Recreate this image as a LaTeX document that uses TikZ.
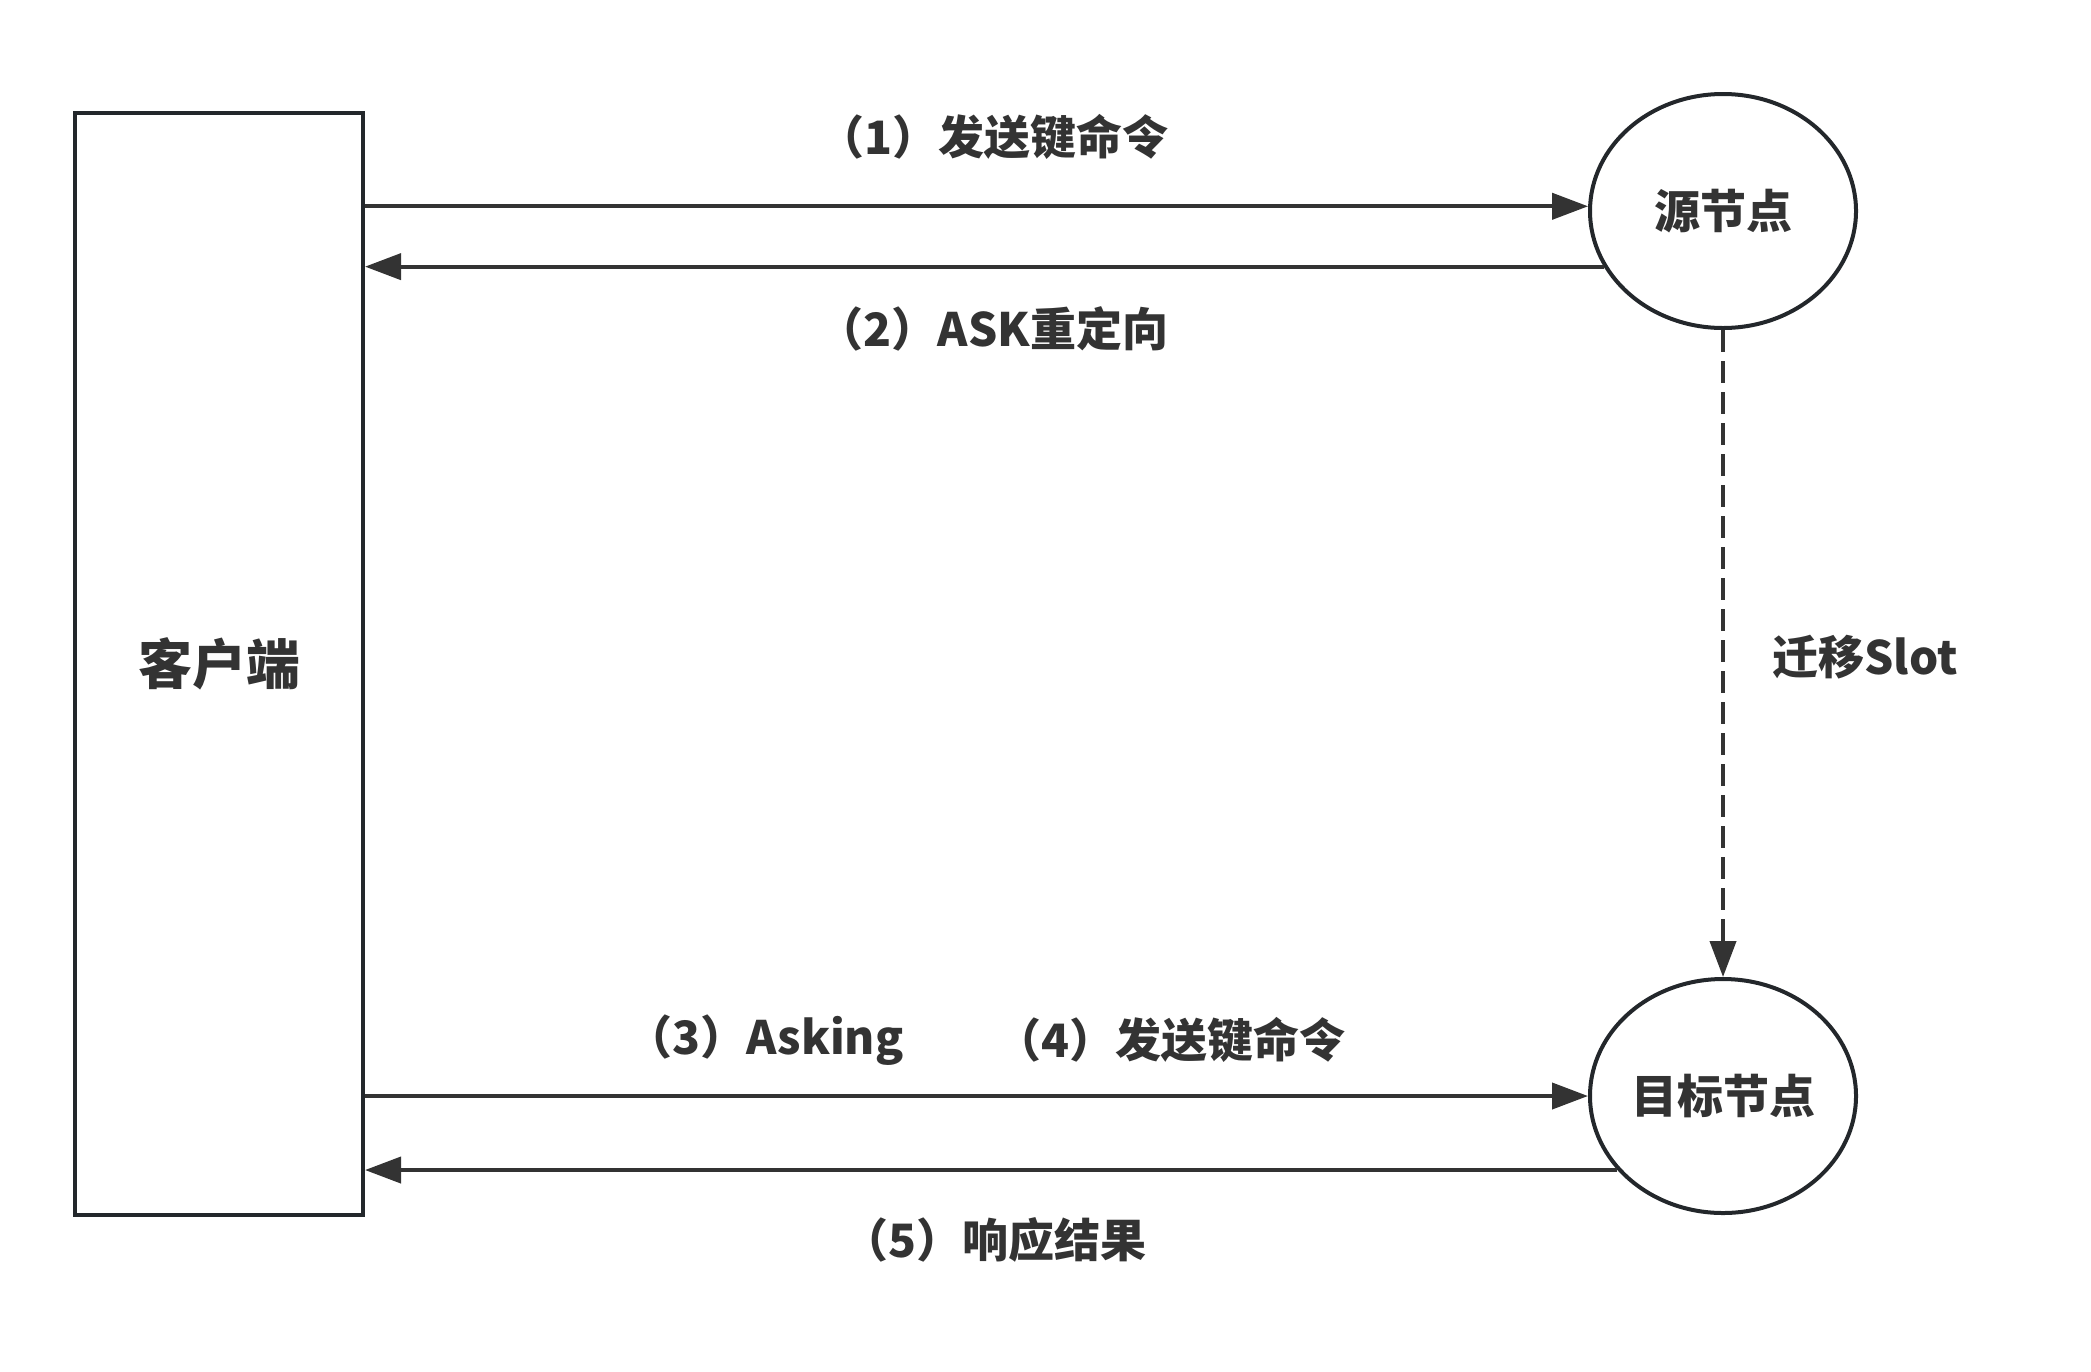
\documentclass[tikz,border=0pt]{standalone}
\usepackage{fontspec}
\setmainfont{Noto Sans CJK SC}
\usepackage{xcolor}
\usetikzlibrary{arrows.meta, positioning, shapes.geometric}
\definecolor{ink}{HTML}{333333}
\definecolor{edge}{HTML}{23272B}

\begin{document}
\begin{tikzpicture}[
    x=0.5pt, y=-0.5pt,
    every node/.style={font=\bfseries\fontsize{23}{27}\selectfont, text=ink, align=center},
    client/.style={rectangle, draw=edge, line width=2pt, minimum width=144pt, minimum height=551pt,
                   font=\bfseries\fontsize{27}{32}\selectfont},
    server/.style={ellipse, draw=edge, line width=2pt, inner sep=0pt, minimum width=133pt, minimum height=117pt},
    arr/.style={-{Triangle[length=18pt, width=13pt]}, line width=2pt, draw=ink},
    dasharr/.style={arr, dash pattern=on 11pt off 4.5pt}
  ]
    \useasboundingbox (0,0) rectangle (2091,1371);

    % client and nodes
    \node[client] (client) at (219,664) {客户端};
    \node[server] (src) at (1723,211) {源节点};
    \node[server] (dst) at (1723,1096) {目标节点};

    % source side
    \draw[arr] (client.east |- src.178) -- (src.178);
    \draw[arr] (src.205) -- (src.205 -| client.east);
    \node (send1) at (993,137) {（1）发送键命令};
    \node (askredir) at (993,329) {（2）ASK重定向};

    % slot migration
    \draw[dasharr] (src.south) -- (dst.north);
    \node (migrate) at (1865,657) {迁移Slot};

    % target side
    \draw[arr] (client.east |- dst.west) -- (dst.west);
    \draw[arr] (dst.215) -- (dst.215 -| client.east);
    \node (asking) at (765,1040) {（3）Asking};
    \node (send2) at (1170,1040) {（4）发送键命令};
    \node (reply) at (994,1240) {（5）响应结果};
  \end{tikzpicture}
\end{document}
